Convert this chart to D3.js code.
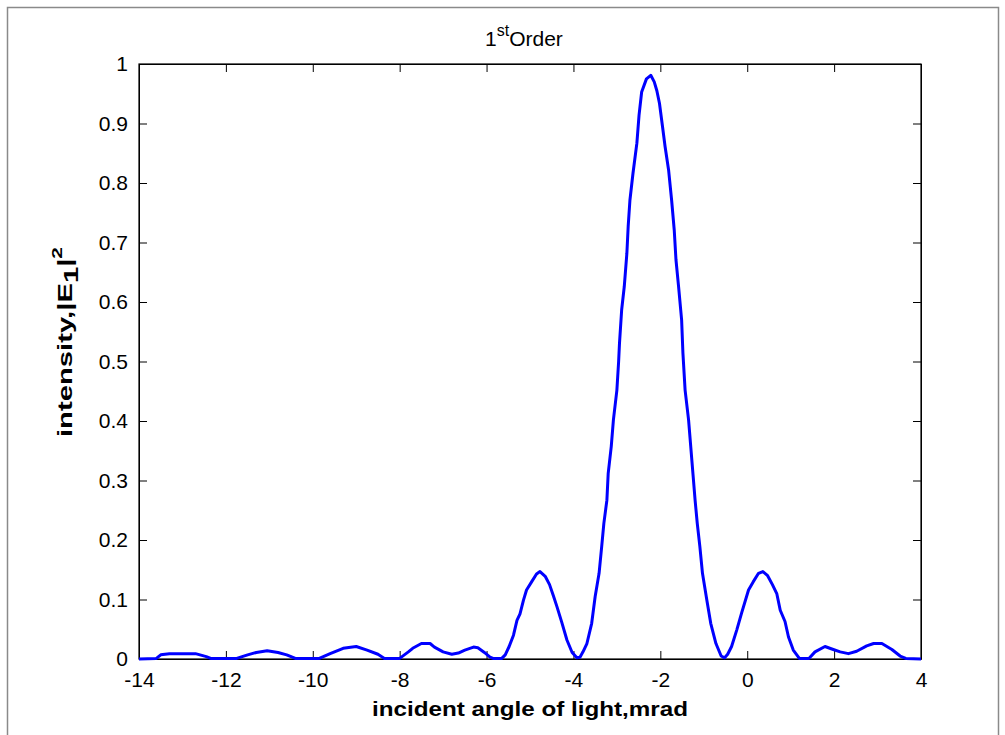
<!DOCTYPE html>
<html>
<head>
<meta charset="utf-8">
<title>1st Order</title>
<script src="https://cdn.jsdelivr.net/npm/d3@7"></script>
<style>
	body { margin: 0; background: white; }
	svg { display: block; font-family: "Liberation Sans", Arial, sans-serif; }
	.axis text { font-size: 21px; fill: #000; }
	.axis line, .axis path { stroke: #000; }
</style>
</head>
<body>
<script>

// angle (mrad) and |E1|^2
var angles = [-14.0, -13.6, -13.5, -13.3, -12.7, -12.45, -12.35, -11.75, -11.5, -11.3,
	-11.05, -10.8, -10.6, -10.4, -9.85, -9.6, -9.3, -9.0, -8.75, -8.5,
	-8.35, -8.0, -7.8, -7.7, -7.5, -7.3, -7.2, -7.0, -6.8, -6.65,
	-6.5, -6.3, -6.2, -6.05, -5.92, -5.85, -5.65, -5.57, -5.48, -5.38,
	-5.30, -5.23, -5.15, -5.08, -4.96, -4.85, -4.77, -4.65, -4.55, -4.46,
	-4.38, -4.27, -4.15, -4.03, -3.92, -3.85, -3.78, -3.69, -3.58, -3.50,
	-3.41, -3.35, -3.30, -3.23, -3.20, -3.13, -3.08, -3.00, -2.96, -2.94,
	-2.89, -2.83, -2.77, -2.74, -2.70, -2.63, -2.54, -2.49, -2.43, -2.32,
	-2.22, -2.14, -2.08, -2.02, -1.95, -1.89, -1.81, -1.74, -1.68, -1.64,
	-1.58, -1.51, -1.48, -1.43, -1.35, -1.30, -1.25, -1.20, -1.15, -1.09,
	-1.03, -0.93, -0.84, -0.72, -0.60, -0.52, -0.45, -0.36, -0.24, -0.13,
	0.03, 0.14, 0.26, 0.36, 0.47, 0.58, 0.68, 0.76, 0.87, 0.95,
	1.06, 1.20, 1.42, 1.56, 1.79, 1.98, 2.14, 2.33, 2.52, 2.75,
	2.91, 3.10, 3.33, 3.52, 3.65, 4.0];
var intensity = [0, 0.001, 0.007, 0.009, 0.009, 0.004, 0.001, 0.001, 0.007, 0.011,
	0.014, 0.011, 0.007, 0.001, 0.001, 0.009, 0.018, 0.021, 0.015, 0.008,
	0.001, 0.001, 0.012, 0.018, 0.026, 0.026, 0.020, 0.012, 0.008, 0.010,
	0.015, 0.020, 0.019, 0.011, 0.003, 0.001, 0.001, 0.007, 0.021, 0.040,
	0.065, 0.076, 0.099, 0.116, 0.130, 0.143, 0.147, 0.139, 0.125, 0.106,
	0.088, 0.062, 0.032, 0.011, 0.002, 0.003, 0.012, 0.026, 0.060, 0.105,
	0.144, 0.189, 0.228, 0.267, 0.312, 0.357, 0.402, 0.452, 0.500, 0.531,
	0.587, 0.626, 0.682, 0.727, 0.771, 0.816, 0.867, 0.914, 0.953, 0.975,
	0.981, 0.970, 0.955, 0.934, 0.895, 0.861, 0.822, 0.771, 0.721, 0.671,
	0.626, 0.570, 0.514, 0.452, 0.402, 0.357, 0.312, 0.267, 0.228, 0.189,
	0.144, 0.099, 0.060, 0.026, 0.005, 0.002, 0.008, 0.021, 0.049, 0.077,
	0.116, 0.130, 0.144, 0.147, 0.140, 0.125, 0.110, 0.082, 0.063, 0.037,
	0.015, 0.001, 0.001, 0.012, 0.021, 0.016, 0.012, 0.009, 0.013, 0.022,
	0.026, 0.026, 0.016, 0.005, 0.001, 0];

var xTicks = [-14, -12, -10, -8, -6, -4, -2, 0, 2, 4];
var yTicks = [0, 0.1, 0.2, 0.3, 0.4, 0.5, 0.6, 0.7, 0.8, 0.9, 1];

var data = angles.map(function(a, i) { return {x: a, y: intensity[i]}; });

// MARGES
var W = 1005, H = 735;
var margin = {top: 64, right: 84, bottom: 76, left: 139};
var width = W - margin.left - margin.right;
var height = H - margin.top - margin.bottom;

var svg = d3.select("body").append("svg")
	.attr("width", W)
	.attr("height", H);

// cadre gris de la figure
svg.append("rect")
	.attr("x", 7.5).attr("y", 7.5)
	.attr("width", 991).attr("height", 740)
	.attr("fill", "white")
	.attr("stroke", "#8a8a8a")
	.attr("stroke-width", 1.5);

var g = svg.append("g")
	.attr("transform", "translate(" + margin.left + "," + margin.top + ")");

var x = d3.scaleLinear().domain([-14, 4]).range([0, width]);
var y = d3.scaleLinear().domain([0, 1]).range([height, 0]);

// tirets simples comme dans matlab (pas le signe moins unicode)
function fmt(d) { return String(d); }

// AXES (ticks vers l'interieur, sur les 4 cotes)
g.append("g")
	.attr("class", "axis")
	.attr("transform", "translate(0," + height + ")")
	.call(d3.axisBottom(x).tickValues(xTicks).tickSizeInner(-8).tickSizeOuter(0).tickPadding(13).tickFormat(fmt));
g.append("g")
	.attr("class", "axis")
	.call(d3.axisLeft(y).tickValues(yTicks).tickSizeInner(-8).tickSizeOuter(0).tickPadding(11).tickFormat(fmt));
g.append("g")
	.attr("class", "axis")
	.call(d3.axisTop(x).tickValues(xTicks).tickSizeInner(-8).tickSizeOuter(0).tickFormat(""));
g.append("g")
	.attr("class", "axis")
	.attr("transform", "translate(" + width + ",0)")
	.call(d3.axisRight(y).tickValues(yTicks).tickSizeInner(-8).tickSizeOuter(0).tickFormat(""));

g.append("rect")
	.attr("width", width).attr("height", height)
	.attr("fill", "none")
	.attr("stroke", "#000")
	.attr("stroke-width", 1.2);

// COURBE
var line = d3.line()
	.x(function(d) { return x(d.x); })
	.y(function(d) { return y(d.y); });

g.append("path")
	.datum(data)
	.attr("d", line)
	.attr("fill", "none")
	.attr("stroke", "#0000ff")
	.attr("stroke-width", 3)
	.attr("stroke-linejoin", "round");

// TITRE
var title = svg.append("text")
	.attr("x", 485)
	.attr("y", 46)
	.style("font-size", "21px");
title.append("tspan").text("1");
title.append("tspan").attr("dy", -10).style("font-size", "16px").text("st");
title.append("tspan").attr("dy", 10).text("Order");

// LABELS
svg.append("text")
	.attr("x", margin.left + width / 2)
	.attr("y", 716)
	.attr("text-anchor", "middle")
	.attr("textLength", 316)
	.attr("lengthAdjust", "spacingAndGlyphs")
	.style("font-size", "20px")
	.style("font-weight", "bold")
	.text("incident angle of light,mrad");

var ylab = svg.append("text")
	.attr("transform", "translate(72,437) rotate(-90)")
	.attr("textLength", 190)
	.attr("lengthAdjust", "spacingAndGlyphs")
	.style("font-size", "21px")
	.style("font-weight", "bold");
ylab.append("tspan").text("intensity,|E");
ylab.append("tspan").attr("dy", 6).text("1");
ylab.append("tspan").attr("dy", -6).text("|");
ylab.append("tspan").attr("dy", -10).style("font-size", "15px").text("2");

</script>
</body>
</html>
